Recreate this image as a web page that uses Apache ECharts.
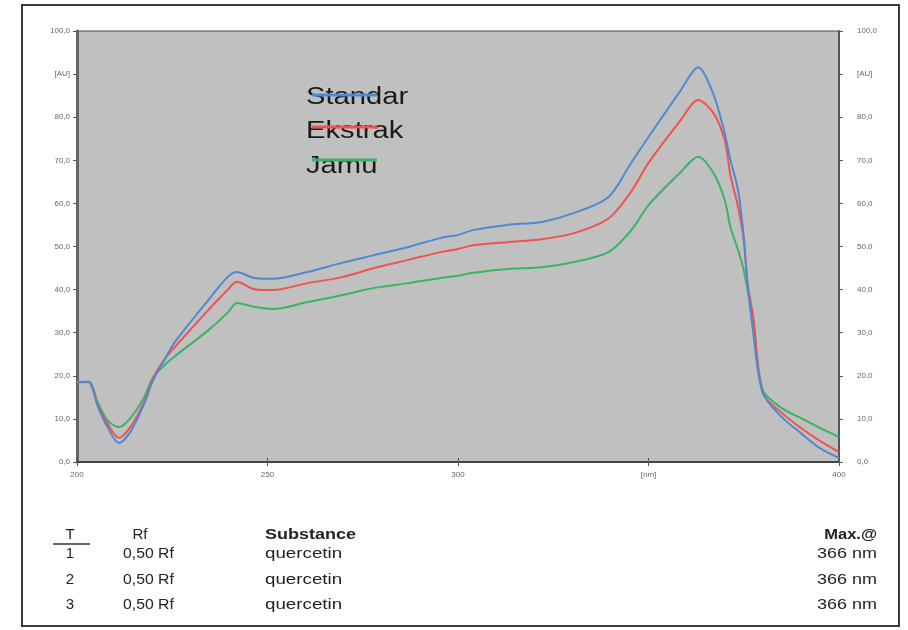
<!DOCTYPE html>
<html>
<head>
<meta charset="utf-8">
<script src="https://cdn.jsdelivr.net/npm/echarts@6/dist/echarts.min.js"></script>
<style>html,body{margin:0;padding:0;background:#fff}#c{width:908px;height:630px}</style>
</head>
<body>
<div id="c"></div>
<script>
// wavelength (nm)
var wavelength = [200,203,205.5,208,211,214,217.5,220,223,225.5,234.5,239.5,242,246.5,251.5,260.5,269.5,278,287,295.5,300,304,313,322,330.5,339.5,345.5,350,358.5,363,367,370,371.5,373.5,375,376,377.5,380,385,390,395,400];
var standar = [18.5,18.6,12.8,8.1,4.4,7.0,13.2,19.0,23.7,27.6,37.6,42.9,44.1,42.7,42.5,44.1,46.2,48.0,49.9,52.0,52.7,53.8,55.0,55.7,57.8,61.5,69.5,75.4,86.3,91.6,85.4,76.3,70.1,63.1,52.2,41.5,29.9,16.0,10.4,6.7,3.2,0.9];
var ekstrak = [18.5,18.5,13.2,9.0,5.6,8.1,13.7,19.5,23.9,26.5,35.3,39.9,41.8,40.1,39.9,41.5,42.9,45.0,46.9,48.7,49.4,50.3,51.0,51.7,53.1,56.5,62.8,69.4,79.4,84.0,81.0,74.7,66.5,59.2,51.5,41.5,33.6,16.0,11.4,7.9,4.9,2.3];
var jamu = [18.5,18.6,13.7,9.7,8.1,10.2,14.8,19.7,22.5,24.4,30.6,34.6,36.9,36.0,35.5,37.1,38.7,40.4,41.5,42.7,43.2,43.9,44.8,45.2,46.4,48.7,53.8,59.6,67.3,70.8,67.1,60.8,54.5,49.2,44.5,39.9,32.9,16.7,12.5,10.2,7.9,5.8];
var seriesNames = ['Standar','Ekstrak','Jamu'];
var xTickValues = [200,250,300,350,400];
var xTickLabels = ['200','250','300','[nm]','400'];
var yTickValues = [0,10,20,30,40,50,60,70,80,90,100];
var yTickLabels = ['0,0','10,0','20,0','30,0','40,0','50,0','60,0','70,0','80,0','[AU]','100,0'];
var tableHeader = ['T','Rf','Substance','Max.@'];
var tableTrack = ['1','2','3'];
var tableRf = ['0,50 Rf','0,50 Rf','0,50 Rf'];
var tableSubstance = ['quercetin','quercetin','quercetin'];
var tableMax = ['366 nm','366 nm','366 nm'];

var colors = ['#5088d2','#f05252','#36b564'];
function pairs(arr){ return wavelength.map(function(w,i){ return [w, arr[i]]; }); }
function xLab(v){ var i = xTickValues.indexOf(v); return i>=0 ? xTickLabels[i] : ''; }
function yLab(v){ var i = yTickValues.indexOf(v); return i>=0 ? yTickLabels[i] : ''; }

var chart = echarts.init(document.getElementById('c'), null, {renderer:'canvas'});
var FONT = '"Liberation Sans", Arial, sans-serif';
var axisLabelStyle = {fontSize:8, color:'#666', fontFamily:FONT};

var graphics = [];
// outer frame
graphics.push({type:'rect', shape:{x:22,y:5,width:877,height:621}, style:{fill:null, stroke:'#3a3a3a', lineWidth:2}, z:0, silent:true});
// legend
var legY = [95,127,160];
var legTextY = [98,132,167];
seriesNames.forEach(function(n,i){
  graphics.push({type:'text', x:306, y:legTextY[i], scaleX:1.27, style:{text:n, font:'23px '+FONT, fill:'#1a1a1a', textVerticalAlign:'middle', textAlign:'left'}, z:100});
  graphics.push({type:'line', shape:{x1:312,y1:legY[i],x2:377,y2:legY[i]}, style:{stroke:colors[i], lineWidth:3}, z:101});
});
// table
function txt(t,x,y,align,bold,sx){
  graphics.push({type:'text', x:x, y:y, scaleX:sx, style:{text:t, font:(bold?'bold ':'')+'15px '+FONT, fill:'#222', textAlign:align, textVerticalAlign:'middle'}, z:100});
}
txt(tableHeader[0],70,535,'center',false,1.0);
graphics.push({type:'line', shape:{x1:53,y1:544,x2:90,y2:544}, style:{stroke:'#333', lineWidth:1.5}});
txt(tableHeader[1],140,535,'center',false,1.0);
txt(tableHeader[2],265,535,'left',true,1.2);
txt(tableHeader[3],877,535,'right',true,1.1);
var rowY = [554,580,605];
for (var r=0;r<3;r++){
  txt(tableTrack[r],70,rowY[r],'center',false,1.0);
  txt(tableRf[r],123,rowY[r],'left',false,1.05);
  txt(tableSubstance[r],265,rowY[r],'left',false,1.25);
  txt(tableMax[r],877,rowY[r],'right',false,1.2);
}

var option = {
  backgroundColor:'#ffffff',
  animation:false,
  grid:{left:77, right:69, top:31, bottom:168, show:true, backgroundColor:'#c0c0c0', borderColor:'#4a4a4a', borderWidth:1},
  xAxis:[{
    type:'value', min:200, max:400, interval:50, position:'bottom',
    axisLine:{show:true, lineStyle:{color:'#555', width:2}},
    axisTick:{show:true, length:4, lineStyle:{color:'#555'}},
    axisLabel:Object.assign({formatter:xLab, margin:9}, axisLabelStyle),
    splitLine:{show:false}
  },{
    type:'value', min:200, max:400, interval:50, position:'top',
    axisLine:{show:true, lineStyle:{color:'#444', width:2}},
    axisTick:{show:true, length:4, lineStyle:{color:'#555'}},
    axisLabel:{show:false}, splitLine:{show:false}
  }],
  yAxis:[{
    type:'value', min:0, max:100, interval:10, position:'left',
    axisLine:{show:true, lineStyle:{color:'#666', width:3}},
    axisTick:{show:true, length:4, lineStyle:{color:'#555'}},
    axisLabel:Object.assign({formatter:yLab, margin:7}, axisLabelStyle),
    splitLine:{show:false}
  },{
    type:'value', min:0, max:100, interval:10, position:'right',
    axisLine:{show:true, lineStyle:{color:'#555', width:2}},
    axisTick:{show:true, length:4, lineStyle:{color:'#555'}},
    axisLabel:Object.assign({formatter:yLab, margin:18}, axisLabelStyle),
    splitLine:{show:false}
  }],
  series:[standar, ekstrak, jamu].map(function(arr,i){
    return {name:seriesNames[i], type:'line', data:pairs(arr), smooth:0.3, showSymbol:false,
      lineStyle:{color:colors[i], width:2}, itemStyle:{color:colors[i]}, z:3-i+2};
  }),
  graphic:graphics
};
chart.setOption(option);
</script>
</body>
</html>
